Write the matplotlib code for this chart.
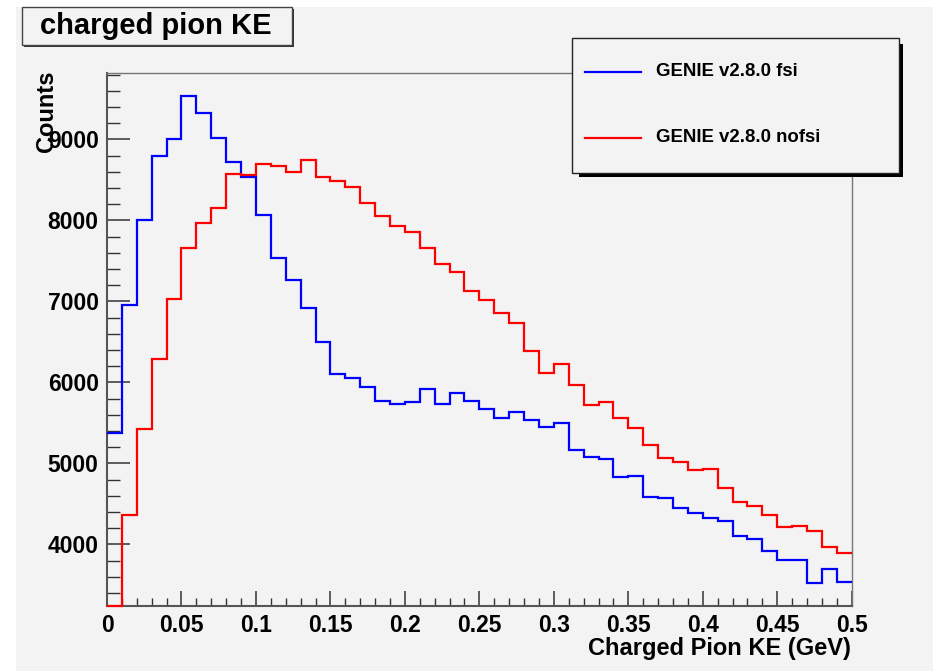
import matplotlib
matplotlib.use("Agg")
import matplotlib.pyplot as plt
import numpy as np
from matplotlib.patches import Rectangle
from matplotlib.lines import Line2D
from matplotlib.ticker import MultipleLocator

plt.rcParams['font.family'] = ['Liberation Sans', 'DejaVu Sans']
plt.rcParams['font.weight'] = 'bold'

# histogram data: 50 bins, 0 - 0.5 GeV
ke_lo, ke_hi, n_bins = 0.0, 0.5, 50
fsi = [5380, 6950, 8000, 8790, 9010, 9536, 9332, 9012, 8723, 8536,
       8064, 7540, 7259, 6915, 6502, 6110, 6060, 5940, 5770, 5737,
       5762, 5919, 5737, 5865, 5770, 5668, 5564, 5635, 5536, 5453,
       5495, 5172, 5075, 5058, 4828, 4844, 4581, 4568, 4452, 4383,
       4321, 4284, 4106, 4065, 3921, 3802, 3802, 3526, 3691, 3538]
nofsi = [3240, 4362, 5430, 6289, 7030, 7655, 7966, 8149, 8575, 8565,
         8702, 8676, 8600, 8745, 8532, 8481, 8410, 8213, 8052, 7933,
         7862, 7665, 7459, 7368, 7126, 7022, 6854, 6738, 6392, 6113,
         6224, 5968, 5725, 5754, 5557, 5441, 5223, 5062, 5017, 4914,
         4930, 4700, 4527, 4473, 4362, 4210, 4222, 4168, 3963, 3889]
labels = ["GENIE v2.8.0 fsi", "GENIE v2.8.0 nofsi"]
colors = ["blue", "red"]

xticks = [0, 0.05, 0.1, 0.15, 0.2, 0.25, 0.3, 0.35, 0.4, 0.45, 0.5]
xticklabels = ["0", "0.05", "0.1", "0.15", "0.2", "0.25", "0.3", "0.35", "0.4", "0.45", "0.5"]
yticks = [4000, 5000, 6000, 7000, 8000, 9000]

W, H = 933, 671
bg = '#f3f3f3'


def fx(px):
    return px / W


def fy(py):
    return 1 - py / H


fig = plt.figure(figsize=(W / 100, H / 100), dpi=100, facecolor='white')
fig.add_artist(Rectangle((fx(16), 0), 1 - fx(16), fy(7), transform=fig.transFigure,
                         facecolor=bg, edgecolor='none', zorder=-5))

ax = fig.add_axes([fx(107), fy(606), fx(851.7) - fx(107), fy(73) - fy(606)])
ax.set_facecolor(bg)

edges = np.linspace(ke_lo, ke_hi, n_bins + 1)
for vals, c in zip([fsi, nofsi], colors):
    ax.stairs(vals, edges, baseline=None, color=c, lw=1.6, clip_on=False, zorder=3)

ax.set_xlim(ke_lo, ke_hi)
ax.set_ylim(3240, 9820)
ax.set_xticks(xticks)
ax.set_xticklabels(xticklabels)
ax.set_yticks(yticks)
ax.set_yticklabels([str(v) for v in yticks])
ax.xaxis.set_minor_locator(MultipleLocator(0.01))
ax.yaxis.set_minor_locator(MultipleLocator(200))

ax.tick_params(axis='x', which='major', direction='in', length=10.8, width=1.1,
               color='#333333', pad=6, labelsize=16.5)
ax.tick_params(axis='x', which='minor', direction='in', length=5.5, width=1.0, color='#333333')
ax.tick_params(axis='y', which='major', direction='in', length=16.6, width=1.1,
               color='#333333', pad=6, labelsize=16.5)
ax.tick_params(axis='y', which='minor', direction='in', length=9, width=1.0, color='#333333')

for s in ['left', 'bottom']:
    ax.spines[s].set_color('#555555')
    ax.spines[s].set_linewidth(1.5)
for s in ['top', 'right']:
    ax.spines[s].set_color('#777777')
    ax.spines[s].set_linewidth(1.0)

# axis titles
fig.text(fx(47), fy(71), 'Counts', rotation=90, ha='center', va='top', fontsize=17, fontweight='bold')
fig.text(fx(851), fy(648), 'Charged Pion KE (GeV)', ha='right', va='center', fontsize=17, fontweight='bold')

# title box
fig.add_artist(Rectangle((fx(24), fy(47)), fx(292) - fx(22), fy(7) - fy(45), transform=fig.transFigure,
                         facecolor='#333333', edgecolor='none', zorder=5))
fig.add_artist(Rectangle((fx(22), fy(45)), fx(292) - fx(22), fy(7) - fy(45), transform=fig.transFigure,
                         facecolor=bg, edgecolor='#444444', lw=1.0, zorder=6))
fig.text(fx(156), fy(26), 'charged pion KE', ha='center', va='center', fontsize=21,
         fontweight='bold', zorder=7)

# legend box
fig.add_artist(Rectangle((fx(579), fy(177)), fx(903) - fx(579), fy(44) - fy(177), transform=fig.transFigure,
                         facecolor='black', edgecolor='none', zorder=5))
fig.add_artist(Rectangle((fx(572), fy(173)), fx(899) - fx(572), fy(38) - fy(173), transform=fig.transFigure,
                         facecolor=bg, edgecolor='#222222', lw=1.0, zorder=6))
for i, (lab, c) in enumerate(zip(labels, colors)):
    yy = fy(72 + i * 66)
    fig.add_artist(Line2D([fx(585), fx(641)], [yy, yy], transform=fig.transFigure,
                          color=c, lw=1.6, zorder=7))
    fig.text(fx(656), yy, lab, ha='left', va='center', fontsize=13.4, fontweight='bold', zorder=7)

fig.savefig('out.png', dpi=100, facecolor=fig.get_facecolor())
